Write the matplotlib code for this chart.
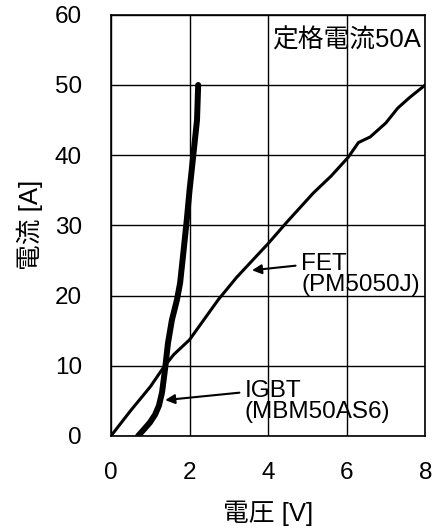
import matplotlib.pyplot as plt

plt.rcParams['font.family'] = ['Liberation Sans', 'Noto Sans CJK JP', 'DejaVu Sans']

# FET (PM5050J) curve
fet_v = [0.0, 0.5, 1.0, 1.33, 1.6, 2.0, 2.73, 3.2, 4.0, 4.5, 5.15, 5.6, 6.04, 6.3, 6.6, 7.0, 7.3, 7.6, 8.0]
fet_i = [0.0, 3.6, 7.0, 9.7, 11.6, 13.7, 19.4, 22.6, 27.4, 30.6, 34.6, 37.0, 39.7, 41.8, 42.6, 44.6, 46.7, 48.2, 50.0]

# IGBT (MBM50AS6) curve
igbt_v = [0.69, 0.85, 0.99, 1.12, 1.22, 1.3, 1.38, 1.45, 1.55, 1.68, 1.76, 1.85, 1.93, 2.0, 2.09, 2.19, 2.22]
igbt_i = [0.0, 1.0, 1.9, 3.0, 4.3, 6.2, 9.7, 13.2, 16.5, 19.4, 21.8, 26.5, 30.8, 35.0, 39.7, 45.0, 50.0]

xticks = [0, 2, 4, 6, 8]
yticks = [0, 10, 20, 30, 40, 50, 60]

FS = 17.5
FS_JP = 18.5

fig = plt.figure(figsize=(4.37, 5.29), dpi=100)
ax = fig.add_axes([0.254, 0.176, 0.719, 0.796])

ax.plot(fet_v, fet_i, color='black', lw=2.2, zorder=3)
ax.plot(igbt_v, igbt_i, color='black', lw=4.3, solid_capstyle='round', zorder=3)

ax.set_xlim(0, 8)
ax.set_ylim(0, 60)
ax.set_xticks(xticks)
ax.set_yticks(yticks)
ax.grid(True, color='black', lw=1.0)
ax.set_axisbelow(True)
for s in ax.spines.values():
    s.set_color('black')
    s.set_linewidth(1.2)
ax.tick_params(length=0, labelsize=FS, pad=19)
ax.tick_params(axis='y', pad=21)

ax.set_xlabel('電圧 [V]', fontsize=FS_JP, va='center')
ax.xaxis.set_label_coords(0.5, -0.183)
ax.set_ylabel('電流 [A]', fontsize=FS_JP, va='center')
ax.yaxis.set_label_coords(-0.258, 0.5)

ax.text(0.985, 0.968, '定格電流50A', transform=ax.transAxes, ha='right', va='top', fontsize=FS_JP)

ax.annotate('FET\n(PM5050J)', xy=(3.59, 23.6), xytext=(4.84, 23.0),
            fontsize=FS, va='center', ha='left', linespacing=0.92,
            arrowprops=dict(arrowstyle='-|>', color='black', lw=1.5, mutation_scale=14,
                            shrinkA=2, shrinkB=0, relpos=(0, 0.72)))
ax.annotate('IGBT\n(MBM50AS6)', xy=(1.38, 5.1), xytext=(3.41, 4.9),
            fontsize=FS, va='center', ha='left', linespacing=0.92,
            arrowprops=dict(arrowstyle='-|>', color='black', lw=1.5, mutation_scale=14,
                            shrinkA=2, shrinkB=0, relpos=(0, 0.72)))

fig.savefig('out.png', dpi=100, facecolor='white')
